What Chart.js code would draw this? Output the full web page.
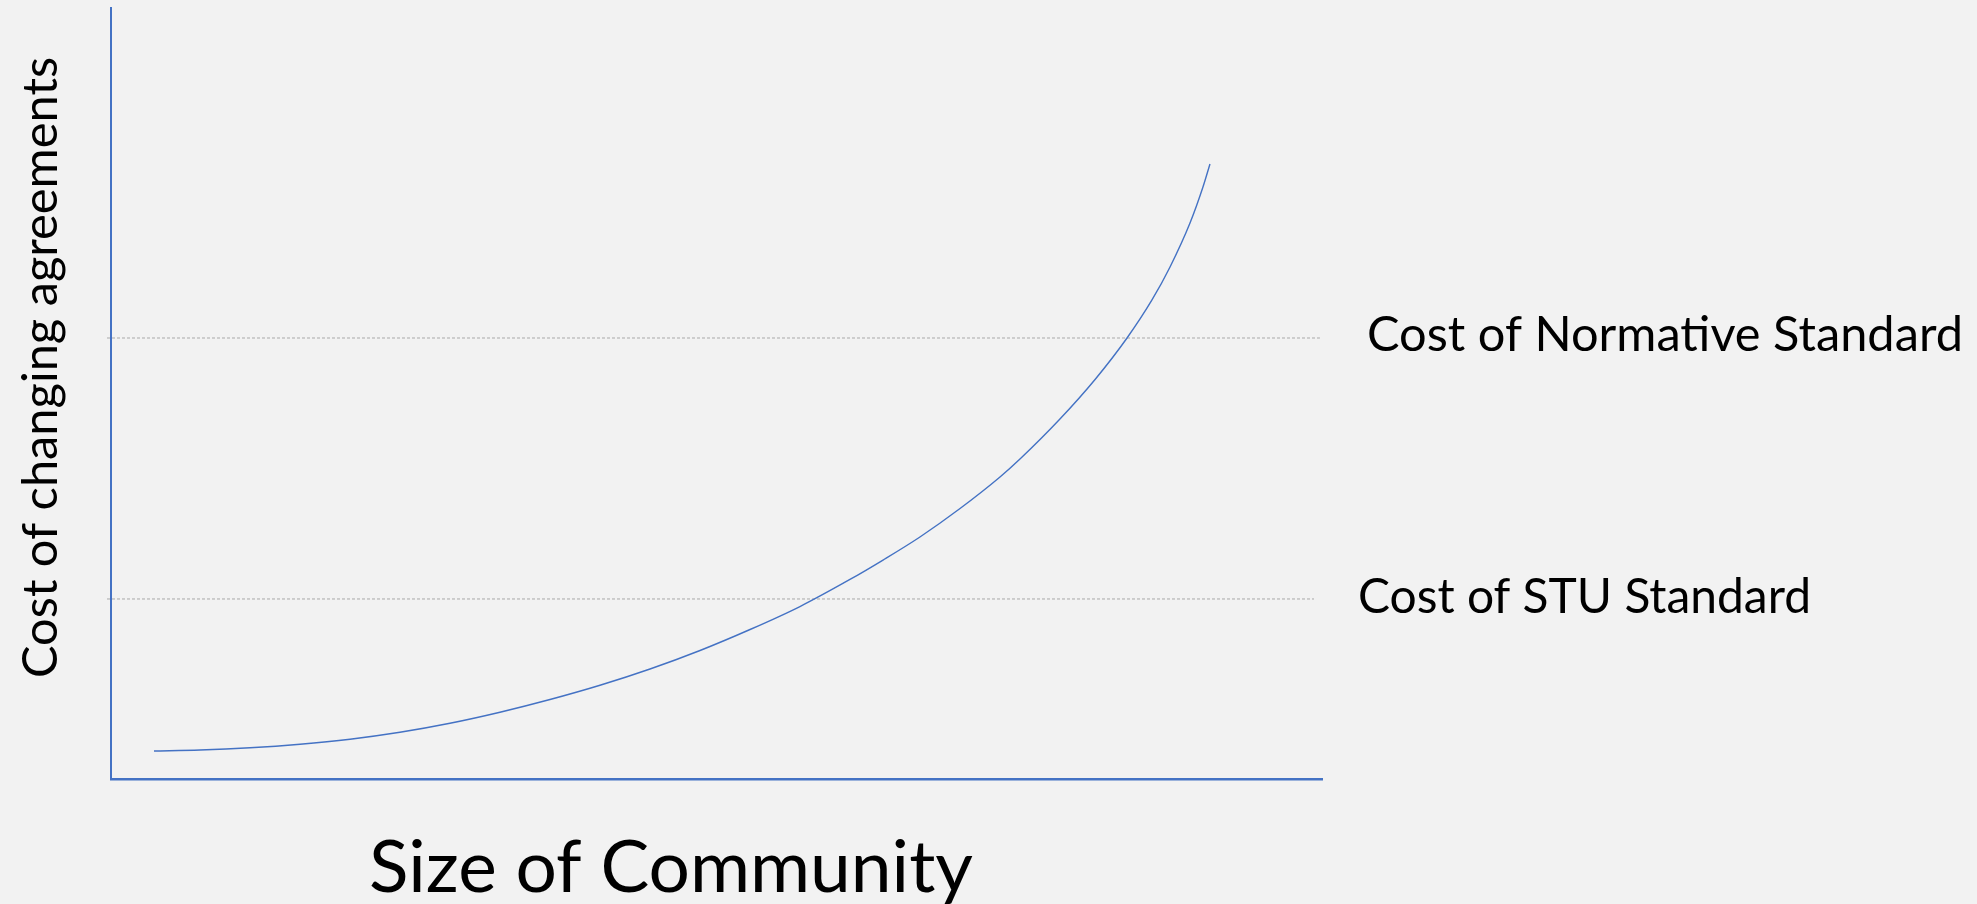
<!DOCTYPE html>
<html>
<head>
<meta charset="utf-8">
<script src="https://cdn.jsdelivr.net/npm/chart.js@4/dist/chart.umd.min.js"></script>
<style>
  html, body { margin: 0; padding: 0; background: #f2f2f2; overflow: hidden; }
  canvas { display: block; }
</style>
</head>
<body>
<canvas id="c" width="1977" height="904" style="width:1977px;height:904px"></canvas>
<script>
// ---- data (x: size of community, y: cost; both 0..100) ----
const curveX = [3.55, 7.35, 11.48, 15.61, 19.74, 23.86, 27.99, 32.12, 36.25, 40.38, 44.51, 48.64, 52.77, 56.89, 61.02, 63.75, 66.80, 70.11, 73.41, 75.06, 78.36, 81.26, 83.90, 85.96, 87.45, 89.10, 90.17, 90.75];
const curveY = [3.63, 3.76, 4.05, 4.51, 5.16, 6.06, 7.23, 8.66, 10.31, 12.16, 14.27, 16.67, 19.39, 22.37, 25.88, 28.40, 31.39, 35.08, 39.17, 41.50, 46.69, 51.82, 57.20, 62.13, 66.41, 72.11, 76.78, 79.77];
const levelNames = ["Cost of Normative Standard", "Cost of STU Standard"];
const levelValues = [57.2, 23.35];
const levelStartX = [-0.33, -0.33];
const levelEndX = [99.83, 99.34];
const xTitle = "Size of Community";
const yTitle = "Cost of changing agreements";

const BLUE = '#4472C4';
const GRAY = '#a9a9a9';
const FONT = 'Lato, "Open Sans", sans-serif';
const CAP = 0.7165; // cap height ratio of Lato

const curveData = curveX.map((x, i) => ({ x: x, y: curveY[i] }));
const levelSets = levelValues.map((v, i) => ({
  label: levelNames[i],
  data: [{ x: levelStartX[i], y: v }, { x: levelEndX[i], y: v }],
  borderColor: GRAY,
  borderWidth: 1,
  borderDash: [3, 2],
  pointRadius: 0,
  clip: false,
  order: 2
}));

// draws a text fitted into a box: left x, baseline y, width, cap height
function fitText(ctx, text, cap, width) {
  const size = cap / CAP;
  ctx.font = size + 'px ' + FONT;
  const w = ctx.measureText(text).width;
  const sx = width / w;
  ctx.save();
  ctx.scale(sx, 1);
  ctx.fillText(text, 0, 0);
  ctx.restore();
}

const textPlugin = {
  id: 'texts',
  beforeDraw(chart) {
    const ctx = chart.ctx;
    ctx.save();
    ctx.fillStyle = '#f2f2f2';
    ctx.fillRect(0, 0, chart.width, chart.height);
    ctx.restore();
  },
  afterDraw(chart) {
    const ctx = chart.ctx;
    const ys = chart.scales.y;
    ctx.save();
    ctx.fillStyle = '#000000';
    ctx.textBaseline = 'alphabetic';
    ctx.textAlign = 'left';
    const lab = [
      { x: 1367, dy: 13, w: 596, cap: 34 },
      { x: 1358, dy: 14, w: 453, cap: 35 }
    ];
    levelValues.forEach((v, i) => {
      const py = ys.getPixelForValue(v);
      ctx.save();
      ctx.translate(lab[i].x, py + lab[i].dy);
      fitText(ctx, levelNames[i], lab[i].cap, lab[i].w);
      ctx.restore();
    });
    ctx.save();
    ctx.translate(369, 892);
    fitText(ctx, xTitle, 52, 604);
    ctx.restore();
    ctx.save();
    ctx.translate(57, 678);
    ctx.rotate(-Math.PI / 2);
    fitText(ctx, yTitle, 34, 621);
    ctx.restore();
    ctx.restore();
  }
};

new Chart(document.getElementById('c'), {
  type: 'line',
  data: {
    datasets: [
      {
        label: 'Cost of changing agreements',
        data: curveData,
        borderColor: BLUE,
        borderWidth: 1.4,
        pointRadius: 0,
        cubicInterpolationMode: 'monotone',
        fill: false,
        order: 1
      },
      ...levelSets
    ]
  },
  options: {
    responsive: false,
    animation: false,
    devicePixelRatio: 1,
    layout: { padding: { left: 111, right: 655, top: 8, bottom: 125 } },
    plugins: { legend: { display: false }, tooltip: { enabled: false } },
    scales: {
      x: {
        type: 'linear', min: 0, max: 100,
        grid: { display: false, drawTicks: false },
        ticks: { display: false },
        border: { display: true, color: BLUE, width: 2.5 }
      },
      y: {
        type: 'linear', min: 0, max: 100,
        grid: { display: false, drawTicks: false },
        ticks: { display: false },
        border: { display: true, color: BLUE, width: 2 }
      }
    }
  },
  plugins: [textPlugin]
});
</script>
</body>
</html>
